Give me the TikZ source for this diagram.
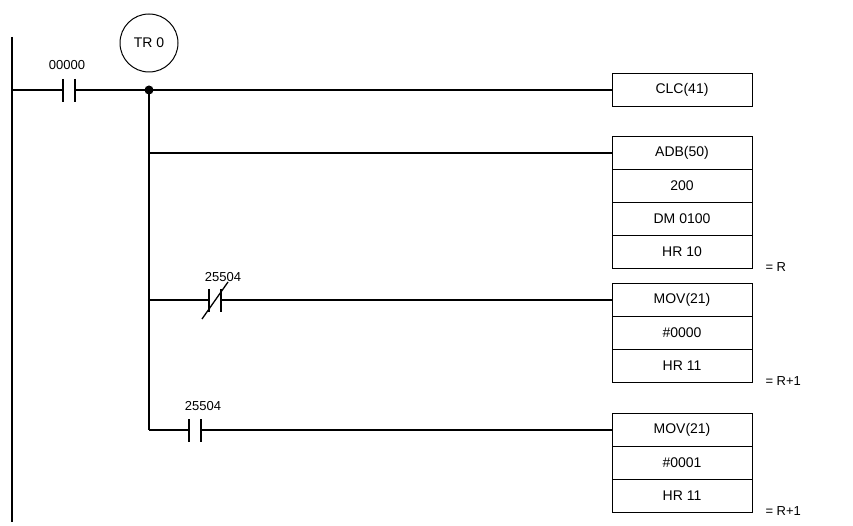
\documentclass[tikz,border=0pt]{standalone}
\usepackage{fontspec}
\setmainfont{Liberation Sans}
\tikzset{
    wire/.style={line width=1.3pt},
    instr/.style={draw, line width=1pt, minimum width=140pt, minimum height=33pt, inner sep=0pt, font=\fontsize{14}{14}\selectfont},
    lbl/.style={font=\fontsize{13}{13}\selectfont}
}
\begin{document}
\begin{tikzpicture}[x=1pt,y=-1pt]
    \useasboundingbox (0,0) rectangle (853,526);
    % left rail
    \draw[wire] (12,37) -- (12,522);
    % contact 00000
    \coordinate (c0l) at (63,90);
    \coordinate (c0r) at (75,90);
    \draw[wire] (12,90) -- (c0l);
    \draw[wire] (63,79) -- (63,102) (75,79) -- (75,102);
    \node[lbl] (l0) at (67,65) {00000};
    % TR 0
    \node[draw, circle, line width=1pt, minimum size=58pt, inner sep=0pt, font=\fontsize{14}{14}\selectfont] (tr) at (149,43) {TR 0};
    \coordinate (j) at (149,90);
    \fill (j) circle (4.5);
    % boxes
    \foreach \n/\y/\t in {clc/90/CLC(41), adb/153/ADB(50), a2/186/200, a3/219/DM 0100, a4/252/HR 10,
        m1/300/MOV(21), m2/333/\#0000, m3/366/HR 11, n1/430/MOV(21), n2/463/\#0001, n3/496/HR 11} {
        \node[instr] (\n) at (682,\y) {\t};
    }
    \node[lbl, anchor=west] (r1) at (762,267) {= R};
    \node[lbl, anchor=west] (r2) at (762,381) {= R+1};
    \node[lbl, anchor=west] (r3) at (762,511) {= R+1};
    % wiring
    \draw[wire] (c0r) -- (j) -- (clc.west);
    \draw[wire] (j) -- (149,430);
    \draw[wire] (149,153) -- (adb.west);
    % NC contact 25504
    \coordinate (c1l) at (209,300);
    \coordinate (c1r) at (221,300);
    \draw[wire] (149,300) -- (c1l) (c1r) -- (m1.west);
    \draw[wire] (209,289) -- (209,312) (221,289) -- (221,312);
    \draw[wire] (202,319) -- (228,282);
    \node[lbl] (l1) at (223,277) {25504};
    % NO contact 25504
    \coordinate (c2l) at (189,430);
    \coordinate (c2r) at (201,430);
    \draw[wire] (149,430) -- (c2l) (c2r) -- (n1.west);
    \draw[wire] (189,419) -- (189,442) (201,419) -- (201,442);
    \node[lbl] (l2) at (203,406) {25504};
\end{tikzpicture}
\end{document}
